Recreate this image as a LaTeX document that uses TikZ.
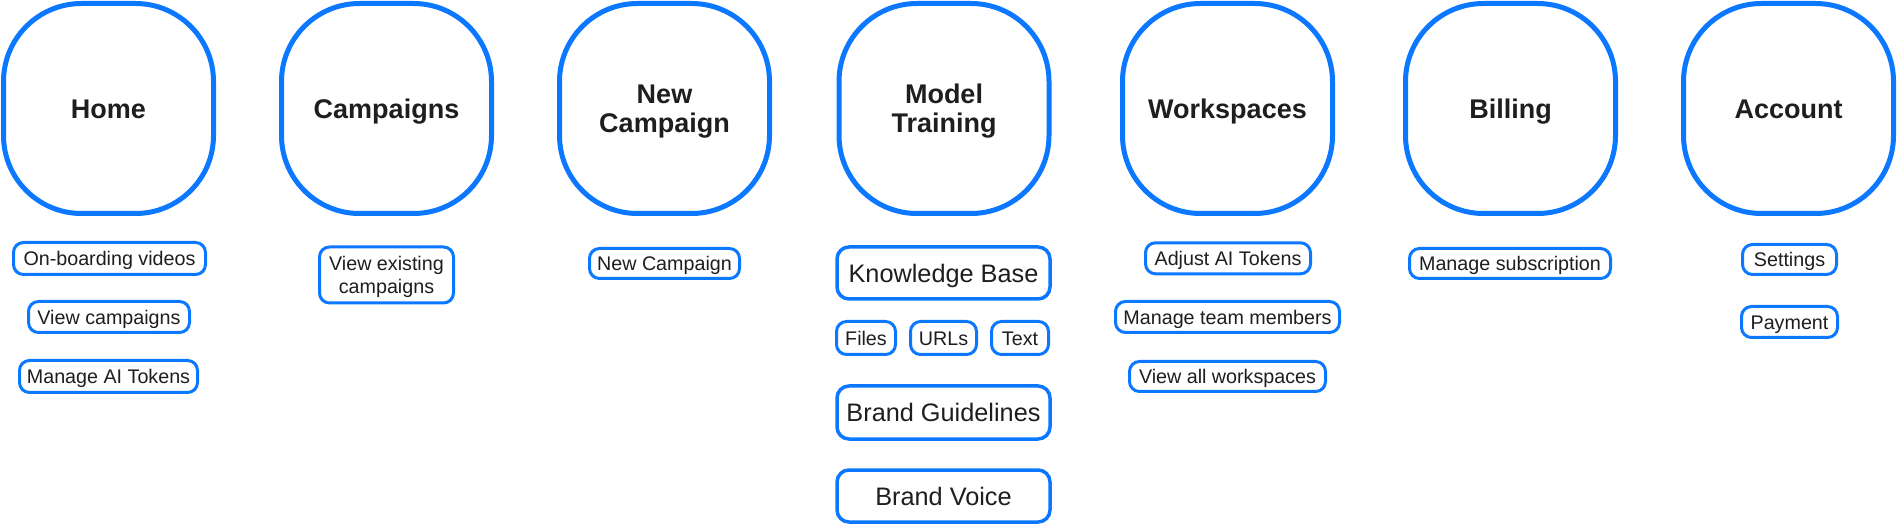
\documentclass[tikz,border=0pt]{standalone}
\usepackage{fontspec}
\setmainfont{Liberation Sans}
\definecolor{fblue}{HTML}{0B78FF}
\definecolor{ftext}{HTML}{1E1E1E}
\begin{document}
\begin{tikzpicture}[x=1pt,y=-1pt,
  bigbox/.style={draw=fblue, line width=5pt, rounded corners=78pt, minimum width=210pt, minimum height=210pt, inner sep=0pt, align=center, text=ftext, font=\fontsize{27}{29}\selectfont\bfseries, text depth=0pt},
  oneline/.style={text height=19.3pt},
  pill/.style={draw=fblue, line width=3pt, rounded corners=10pt, inner sep=0pt, align=center, text=ftext, font=\fontsize{19.7}{23.3}\selectfont, text depth=0pt},
  pline/.style={text height=14.1pt},
  wide/.style={draw=fblue, line width=3.5pt, rounded corners=12pt, inner sep=0pt, align=center, text=ftext, font=\fontsize{25.3}{30}\selectfont, minimum width=213pt, minimum height=52pt, text height=18.1pt, text depth=0pt},
  ]
\useasboundingbox[fill=white] (0,0) rectangle (1898,526);
% main sections
\node[bigbox, oneline] (home) at (108.5,108.5) {Home};
\node[bigbox, oneline] (camp) at (386.5,108.5) {Campaigns};
\node[bigbox] (newc) at (664.5,108.5) {New\\Campaign};
\node[bigbox] (model) at (944,108.5) {Model\\Training};
\node[bigbox, oneline] (work) at (1227.5,108.5) {Workspaces};
\node[bigbox, oneline] (bill) at (1510.5,108.5) {Billing};
\node[bigbox, oneline] (acct) at (1788.5,108.5) {Account};
% Home
\node[pill, pline, minimum width=192pt, minimum height=32pt] (onb) at (109.5,258.5) {On-boarding videos};
\node[pill, pline, minimum width=161pt, minimum height=31pt] (viewc) at (109,317) {View campaigns};
\node[pill, pline, minimum width=178pt, minimum height=32pt] (mat) at (108.5,376.5) {Manage AI Tokens};
% Campaigns
\node[pill, minimum width=134pt, minimum height=56pt] (vec) at (386.5,275) {View existing\\campaigns};
% New Campaign
\node[pill, pline, minimum width=150pt, minimum height=30pt] (nc) at (664.5,263.5) {New Campaign};
% Model Training
\node[wide] (kb) at (943.5,273) {Knowledge Base};
\node[pill, pline, minimum width=59pt, minimum height=33pt] (files) at (866,338) {Files};
\node[pill, pline, minimum width=66pt, minimum height=33pt] (urls) at (943.5,338) {URLs};
\node[pill, pline, minimum width=57pt, minimum height=33pt] (txt) at (1020,338) {Text};
\node[wide, minimum height=53pt] (bg) at (943.5,412.5) {Brand Guidelines};
\node[wide] (bv) at (943.5,496) {Brand Voice};
% Workspaces
\node[pill, pline, minimum width=165pt, minimum height=31pt] (adj) at (1228,258.3) {Adjust AI Tokens};
\node[pill, pline, minimum width=224pt, minimum height=31pt] (mtm) at (1227.5,317) {Manage team members};
\node[pill, pline, minimum width=196pt, minimum height=30pt] (vaw) at (1227.5,376.5) {View all workspaces};
% Billing
\node[pill, pline, minimum width=201pt, minimum height=30pt] (ms) at (1510,263.5) {Manage subscription};
% Account
\node[pill, pline, minimum width=94pt, minimum height=30pt] (set) at (1789.5,259.5) {Settings};
\node[pill, pline, minimum width=96pt, minimum height=31pt] (pay) at (1789.5,322) {Payment};
\end{tikzpicture}
\end{document}
